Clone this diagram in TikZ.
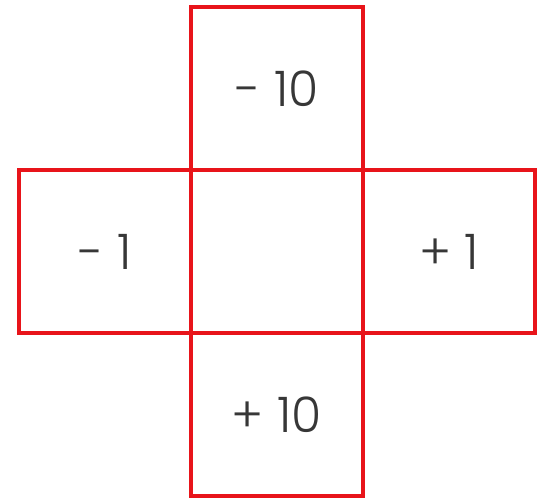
\documentclass[tikz,border=0pt]{standalone}
\usepackage{fontspec}
\setmainfont{Poppins}[UprightFont=* Light]
\usepackage{xcolor}
\usetikzlibrary{positioning}
\definecolor{boxred}{RGB}{232,20,26}
\definecolor{numgray}{RGB}{55,55,55}

\tikzset{
	cell/.style={draw=boxred, line width=3.4pt, minimum width=172pt, minimum height=163pt,
		inner sep=0pt, outer sep=0pt, text=numgray, font=\fontsize{49}{52}\selectfont}
}

\begin{document}
\begin{tikzpicture}[x=1pt, y=-1pt]
			
			% Fix the canvas to the reference size
			\useasboundingbox (0,0) rectangle (547,499);
			
			% Centre cell and its four neighbours
			\node[cell] (mid) at (277,251.5) {};
			\node[cell, above=0pt of mid] (up) {- 10};
			\node[cell, below=0pt of mid] (down) {+ 10};
			\node[cell, left=0pt of mid] (west) {- 1};
			\node[cell, right=0pt of mid] (east) {+ 1};
			
		\end{tikzpicture}
\end{document}
